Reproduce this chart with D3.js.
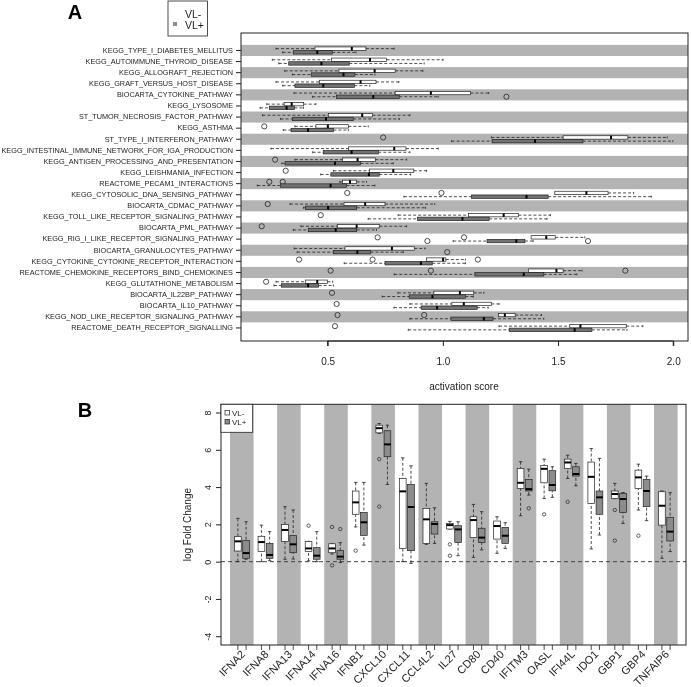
<!DOCTYPE html>
<html><head><meta charset="utf-8">
<script src="https://cdn.jsdelivr.net/npm/d3@7"></script>
<style>body{margin:0;background:#fff}svg{display:block;font-family:"Liberation Sans",Arial,sans-serif;filter:grayscale(100%)}</style>
</head><body>
<svg id="c" width="691" height="687"></svg>
<script>
// ---------- Panel A data ----------
const pathways = ["KEGG_TYPE_I_DIABETES_MELLITUS","KEGG_AUTOIMMUNE_THYROID_DISEASE","KEGG_ALLOGRAFT_REJECTION","KEGG_GRAFT_VERSUS_HOST_DISEASE","BIOCARTA_CYTOKINE_PATHWAY","KEGG_LYSOSOME","ST_TUMOR_NECROSIS_FACTOR_PATHWAY","KEGG_ASTHMA","ST_TYPE_I_INTERFERON_PATHWAY","KEGG_INTESTINAL_IMMUNE_NETWORK_FOR_IGA_PRODUCTION","KEGG_ANTIGEN_PROCESSING_AND_PRESENTATION","KEGG_LEISHMANIA_INFECTION","REACTOME_PECAM1_INTERACTIONS","KEGG_CYTOSOLIC_DNA_SENSING_PATHWAY","BIOCARTA_CDMAC_PATHWAY","KEGG_TOLL_LIKE_RECEPTOR_SIGNALING_PATHWAY","BIOCARTA_PML_PATHWAY","KEGG_RIG_I_LIKE_RECEPTOR_SIGNALING_PATHWAY","BIOCARTA_GRANULOCYTES_PATHWAY","KEGG_CYTOKINE_CYTOKINE_RECEPTOR_INTERACTION","REACTOME_CHEMOKINE_RECEPTORS_BIND_CHEMOKINES","KEGG_GLUTATHIONE_METABOLISM","BIOCARTA_IL22BP_PATHWAY","BIOCARTA_IL10_PATHWAY","KEGG_NOD_LIKE_RECEPTOR_SIGNALING_PATHWAY","REACTOME_DEATH_RECEPTOR_SIGNALLING"];
// [whisker low, q1, median, q3, whisker high]
const aMinus = [[0.276,0.445,0.605,0.666,0.789],[0.260,0.517,0.684,0.756,1.001],[0.314,0.549,0.704,0.793,0.913],[0.276,0.464,0.643,0.710,0.809],[0.354,0.793,0.948,1.120,1.199],[0.236,0.311,0.344,0.396,0.449],[0.217,0.503,0.650,0.695,0.857],[0.358,0.449,0.501,0.590,0.676],[1.211,1.522,1.730,1.803,1.974],[0.254,0.590,0.789,0.840,0.980],[0.358,0.564,0.630,0.707,0.843],[0.525,0.681,0.785,0.874,0.929],[0.553,0.565,0.597,0.626,0.669],[1.486,1.486,1.623,1.717,1.828],[0.337,0.571,0.663,0.749,0.965],[0.806,1.111,1.264,1.328,1.467],[0.384,0.542,0.626,0.724,0.843],[1.383,1.383,1.449,1.488,1.616],[0.355,0.575,0.779,0.876,0.923],[0.929,0.929,1.001,1.013,1.098],[1.371,1.371,1.493,1.522,1.604],[0.276,0.403,0.455,0.499,0.522],[0.805,0.961,1.074,1.134,1.178],[0.857,1.039,1.091,1.211,1.244],[1.241,1.241,1.269,1.314,1.428],[1.244,1.551,1.597,1.796,1.868]];
const aPlus = [[0.305,0.351,0.455,0.520,0.623],[0.288,0.331,0.473,0.594,0.919],[0.347,0.429,0.569,0.618,0.705],[0.305,0.358,0.481,0.616,0.683],[0.434,0.538,0.698,0.811,0.980],[0.207,0.247,0.322,0.356,0.395],[0.296,0.347,0.493,0.611,0.811],[0.308,0.341,0.415,0.525,0.590],[1.038,1.214,1.400,1.608,1.998],[0.435,0.481,0.604,0.720,0.857],[0.301,0.315,0.532,0.643,0.785],[0.470,0.514,0.679,0.724,0.860],[0.195,0.296,0.513,0.582,0.705],[0.831,1.124,1.363,1.457,1.905],[0.395,0.403,0.502,0.626,0.925],[0.676,0.890,1.085,1.201,1.452],[0.351,0.416,0.535,0.626,0.712],[1.045,1.192,1.319,1.356,1.392],[0.368,0.525,0.629,0.686,0.828],[0.572,0.749,0.905,0.954,1.098],[0.789,1.139,1.351,1.438,1.582],[0.267,0.299,0.415,0.461,0.525],[0.737,0.854,0.955,1.098,1.132],[0.788,0.906,0.975,1.149,1.197],[0.857,1.035,1.178,1.218,1.438],[0.850,1.288,1.572,1.647,1.799]];
const aMinusOut = [[],[],[],[],[],[],[],[0.225],[0.741],[],[0.272],[0.318],[0.247,0.305],[0.585,0.994],[0.240],[0.470],[0.214],[0.717,1.092],[],[0.376,0.695,1.152],[0.513,0.948,1.792],[0.233],[0.519],[0.539],[0.543,0.919],[0.532]];
const aPlusOut = [[],[],[],[],[1.276],[],[],[],[],[],[],[],[],[],[],[],[],[0.933,1.630],[1.019],[],[],[],[],[],[],[]];
const aTicks = [0.5,1.0,1.5,2.0];

// ---------- Panel B data ----------
const genes = ["IFNA2","IFNA8","IFNA13","IFNA14","IFNA16","IFNB1","CXCL10","CXCL11","CCL4L2","IL27","CD80","CD40","IFITM3","OASL","IFI44L","IDO1","GBP1","GBP4","TNFAIP6"];
// [min, q1, median, q3, max]
const bMinus = [[0.0,0.57,1.09,1.34,2.32],[0.0,0.54,1.05,1.36,1.96],[0.13,1.09,1.70,2.0,2.95],[0.04,0.54,0.71,1.09,1.09],[0.41,0.48,0.71,0.96,0.96],[1.86,2.54,3.18,3.79,4.25],[6.88,6.91,7.16,7.32,7.41],[0.0,0.71,3.77,4.46,5.57],[0.93,0.98,2.27,2.86,4.2],[1.75,1.75,1.96,2.05,2.16],[0.23,1.30,2.23,2.41,3.07],[0.45,1.21,1.91,2.18,2.41],[2.46,3.93,4.23,5.0,5.36],[3.39,4.23,4.98,5.16,5.5],[4.46,5.0,5.32,5.5,5.71],[0.68,3.125,4.55,5.34,6.07],[3.38,3.38,3.63,3.79,4.2],[2.77,3.93,4.52,4.91,5.23],[0.18,1.96,3.0,3.75,3.79]];
const bPlus = [[0.13,0.18,0.46,1.13,2.14],[0.05,0.18,0.36,0.98,1.61],[0.14,0.48,0.93,1.41,2.77],[0.0,0.13,0.32,0.75,1.61],[-0.05,0.13,0.27,0.59,1.02],[0.89,1.41,2.11,2.64,4.25],[4.14,5.63,6.29,7.02,7.32],[-0.09,0.59,2.93,4.14,5.14],[0.98,1.48,2.02,2.14,2.89],[0.32,1.02,1.73,1.93,2.14],[0.63,1.02,1.29,1.79,2.68],[0.71,0.98,1.39,1.84,2.09],[3.57,3.79,3.89,4.41,4.96],[3.45,3.80,4.11,4.88,5.09],[4.07,4.59,4.70,5.09,5.27],[1.43,2.54,3.45,3.79,5.54],[2.05,2.64,3.36,3.66,3.71],[2.2,2.95,3.79,4.41,4.59],[0.54,1.11,1.61,2.38,3.70]];
const bMinusOut = [[],[],[],[1.93],[1.86,-0.2],[0.59],[5.5,2.95],[],[],[0.93,0.32],[],[],[],[2.54],[3.21],[],[2.77,1.13],[1.39],[]];
const bPlusOut = [[],[],[],[],[1.75],[],[],[],[],[],[],[],[2.86],[],[],[],[],[],[]];
const bTicks = [-4,-2,0,2,4,6,8];

const BAND = "#b3b3b3", DARK_A = "#737373", DARK_B = "#8c8c8c";
const svg = d3.select("#c");

// ================= Panel A =================
const A = {l:241, r:688, t:33, b:341};
const xA = d3.scaleLinear().domain([0.124, 2.064]).range([A.l, A.r]);
const yA = d3.scaleBand().domain(pathways).range([44.9, 333.5]).padding(0);
const gA = svg.append("g");
gA.selectAll("rect.band").data(pathways.filter((d,i)=>i%2===0)).join("rect")
  .attr("x", A.l).attr("width", A.r-A.l).attr("y", d=>yA(d)).attr("height", yA.bandwidth()).attr("fill", BAND);

function hBox(g, vals, outs, yc, h, fill){
  const [lo,q1,md,q3,hi] = vals;
  const dash = "3,2";
  if (lo < q1) {
    g.append("line").attr("x1",xA(lo)).attr("x2",xA(q1)).attr("y1",yc).attr("y2",yc).attr("stroke","#222").attr("stroke-width",0.8).attr("stroke-dasharray",dash);
    g.append("line").attr("x1",xA(lo)).attr("x2",xA(lo)).attr("y1",yc-1).attr("y2",yc+1).attr("stroke","#222").attr("stroke-width",0.8);
  }
  if (hi > q3) {
    g.append("line").attr("x1",xA(q3)).attr("x2",xA(hi)).attr("y1",yc).attr("y2",yc).attr("stroke","#222").attr("stroke-width",0.8).attr("stroke-dasharray",dash);
    g.append("line").attr("x1",xA(hi)).attr("x2",xA(hi)).attr("y1",yc-1).attr("y2",yc+1).attr("stroke","#222").attr("stroke-width",0.8);
  }
  g.append("rect").attr("x",xA(q1)).attr("width",xA(q3)-xA(q1)).attr("y",yc-h/2).attr("height",h).attr("fill",fill).attr("stroke","#222").attr("stroke-width",0.7);
  g.append("line").attr("x1",xA(md)).attr("x2",xA(md)).attr("y1",yc-h/2).attr("y2",yc+h/2).attr("stroke","#000").attr("stroke-width",2);
  outs.forEach(o=>g.append("circle").attr("cx",xA(o)).attr("cy",yc).attr("r",2.6).attr("fill","none").attr("stroke","#222").attr("stroke-width",0.8));
}
pathways.forEach((p,i)=>{
  const c = yA(p) + yA.bandwidth()/2;
  hBox(gA, aMinus[i], aMinusOut[i], c-1.8, 3.4, "#fff");
  hBox(gA, aPlus[i], aPlusOut[i], c+1.9, 3.4, DARK_A);
});
gA.append("rect").attr("x",A.l).attr("y",A.t).attr("width",A.r-A.l).attr("height",A.b-A.t).attr("fill","none").attr("stroke","#222").attr("stroke-width",1);
// left axis
const axAL = gA.append("g").attr("transform",`translate(${A.l},0)`)
  .call(d3.axisLeft(yA).tickSize(5).tickPadding(3));
axAL.select(".domain").remove();
axAL.selectAll("text").attr("font-size",7.3).attr("fill","#222").attr("font-family","Liberation Sans, Arial, sans-serif");
axAL.selectAll("line").attr("stroke","#222");
// bottom axis
const axAB = gA.append("g").attr("transform",`translate(0,${A.b})`)
  .call(d3.axisBottom(xA).tickValues(aTicks).tickFormat(d3.format(".1f")).tickSize(5).tickPadding(12));
axAB.select(".domain").attr("d", `M${xA(0.5)},5V0H${xA(2.0)}V5`).attr("stroke","#222");
axAB.selectAll("text").attr("font-size",10).attr("fill","#222").attr("font-family","Liberation Sans, Arial, sans-serif");
axAB.selectAll("line").attr("stroke","#222");
gA.append("text").attr("x",464).attr("y",390).attr("text-anchor","middle").attr("font-size",10).attr("fill","#222").text("activation score");
gA.append("text").attr("x",75).attr("y",19).attr("text-anchor","middle").attr("font-size",20).attr("font-weight","bold").text("A");
// legend A
gA.append("rect").attr("x",168).attr("y",1).attr("width",39.5).attr("height",35).attr("fill","#fff").attr("stroke","#222").attr("stroke-width",0.8);
gA.append("text").attr("x",185).attr("y",17.5).attr("font-size",10.5).attr("fill","#222").text("VL-");
gA.append("rect").attr("x",173).attr("y",22).attr("width",4).attr("height",4).attr("fill","#8c8c8c");
gA.append("text").attr("x",185).attr("y",28.5).attr("font-size",10.5).attr("fill","#222").text("VL+");

// ================= Panel B =================
const B = {l:221, r:686, t:404.3, b:645};
const yB = d3.scaleLinear().domain([-4.47, 8.44]).range([B.b, B.t]);
const xB = d3.scaleBand().domain(genes).range([230, 677.6]).padding(0);
const gB = svg.append("g");
gB.selectAll("rect.band").data(genes.filter((d,i)=>i%2===0)).join("rect")
  .attr("x", d=>xB(d)).attr("width", xB.bandwidth()).attr("y", B.t).attr("height", B.b-B.t).attr("fill", BAND);
gB.append("line").attr("x1",B.l).attr("x2",B.r).attr("y1",yB(0)).attr("y2",yB(0)).attr("stroke","#444").attr("stroke-width",1).attr("stroke-dasharray","4,3");

function vBox(g, vals, outs, xc, w, fill){
  const [lo,q1,md,q3,hi] = vals;
  if (lo < q1) {
    g.append("line").attr("x1",xc).attr("x2",xc).attr("y1",yB(lo)).attr("y2",yB(q1)).attr("stroke","#222").attr("stroke-width",0.8).attr("stroke-dasharray","3,2");
  }
  g.append("line").attr("x1",xc-1.7).attr("x2",xc+1.7).attr("y1",yB(lo)).attr("y2",yB(lo)).attr("stroke","#222").attr("stroke-width",0.8);
  if (hi > q3) {
    g.append("line").attr("x1",xc).attr("x2",xc).attr("y1",yB(hi)).attr("y2",yB(q3)).attr("stroke","#222").attr("stroke-width",0.8).attr("stroke-dasharray","3,2");
  }
  g.append("line").attr("x1",xc-1.7).attr("x2",xc+1.7).attr("y1",yB(hi)).attr("y2",yB(hi)).attr("stroke","#222").attr("stroke-width",0.8);
  g.append("rect").attr("x",xc-w/2).attr("width",w).attr("y",yB(q3)).attr("height",yB(q1)-yB(q3)).attr("fill",fill).attr("stroke","#222").attr("stroke-width",0.7);
  g.append("line").attr("x1",xc-w/2).attr("x2",xc+w/2).attr("y1",yB(md)).attr("y2",yB(md)).attr("stroke","#000").attr("stroke-width",2);
  outs.forEach(o=>g.append("circle").attr("cx",xc).attr("cy",yB(o)).attr("r",1.7).attr("fill","none").attr("stroke","#222").attr("stroke-width",0.7));
}
const tickXs = [];
genes.forEach((gname,i)=>{
  const c = xB(gname) + xB.bandwidth()/2;
  vBox(gB, bMinus[i], bMinusOut[i], c-3.9, 6.7, "#fff");
  vBox(gB, bPlus[i], bPlusOut[i], c+4.3, 6.7, DARK_B);
  tickXs.push(c-3.9, c+4.3);
});
gB.append("rect").attr("x",B.l).attr("y",B.t).attr("width",B.r-B.l).attr("height",B.b-B.t).attr("fill","none").attr("stroke","#222").attr("stroke-width",1);
// bottom ticks per box
gB.selectAll("line.bt").data(tickXs).join("line").attr("x1",d=>d).attr("x2",d=>d).attr("y1",B.b).attr("y2",B.b+5).attr("stroke","#222").attr("stroke-width",0.8);
gB.selectAll("text.gl").data(genes).join("text")
  .attr("transform", d=>`translate(${xB(d)+xB.bandwidth()/2+4},${B.b+10}) rotate(-45)`)
  .attr("text-anchor","end").attr("font-size",11).attr("fill","#222").text(d=>d);
// left axis
const axBL = gB.append("g").attr("transform",`translate(${B.l},0)`)
  .call(d3.axisLeft(yB).tickValues(bTicks).tickSize(5).tickFormat(d=>d));
axBL.select(".domain").remove();
axBL.selectAll("line").attr("stroke","#222");
axBL.selectAll("text").attr("x",null).attr("dy",null).attr("text-anchor","middle")
  .attr("transform","translate(-13,0) rotate(-90)").attr("dy","0.35em")
  .attr("font-size",9).attr("fill","#222").attr("font-family","Liberation Sans, Arial, sans-serif");
gB.append("text").attr("transform",`translate(191,${(B.t+B.b)/2}) rotate(-90)`).attr("text-anchor","middle").attr("font-size",10).attr("fill","#222").text("log Fold Change");
gB.append("text").attr("x",85).attr("y",417).attr("text-anchor","middle").attr("font-size",20).attr("font-weight","bold").text("B");
// legend B
gB.append("rect").attr("x",B.l).attr("y",B.t).attr("width",31.7).attr("height",28).attr("fill","#fff").attr("stroke","#222").attr("stroke-width",0.8);
gB.append("rect").attr("x",225).attr("y",410.5).attr("width",4.5).attr("height",4.5).attr("fill","#fff").attr("stroke","#222").attr("stroke-width",0.7);
gB.append("text").attr("x",232).attr("y",416).attr("font-size",8).attr("fill","#222").text("VL-");
gB.append("rect").attr("x",225).attr("y",419.5).attr("width",4.5).attr("height",4.5).attr("fill",DARK_B).attr("stroke","#222").attr("stroke-width",0.7);
gB.append("text").attr("x",232).attr("y",425).attr("font-size",8).attr("fill","#222").text("VL+");
</script>
</body></html>
